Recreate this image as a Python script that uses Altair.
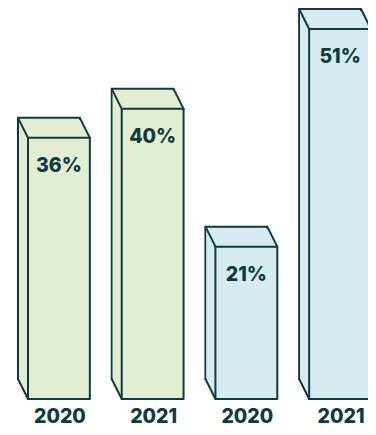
import altair as alt
import pandas as pd

keys = ["g2020", "g2021", "b2020", "b2021"]
years = ["2020", "2021", "2020", "2021"]
values = [36, 40, 21, 51]
groups = ["green", "green", "blue", "blue"]
labels = ["36%", "40%", "21%", "51%"]

df = pd.DataFrame({"key": keys, "year": years, "value": values,
                   "group": groups, "label": labels})

DARK = "#0f3b3e"
FONT = "Inter"
DX, DY = 10, 20

xscale = alt.Scale(range=[20, 363], paddingInner=0.34, paddingOuter=0)
xaxis = alt.Axis(title=None, labelExpr="substring(datum.value, 1)", domain=False,
                 ticks=False, labelAngle=0, labelFont=FONT, labelFontSize=19.5,
                 labelFontWeight=800, labelColor=DARK, labelPadding=8,
                 labelOffset=1)
yscale = alt.Scale(domain=[0, 53.9], nice=False, zero=True)


def X(bp=None):
    if bp is None:
        return alt.X("key:N", sort=keys, scale=xscale, axis=xaxis)
    return alt.X("key:N", sort=keys, scale=xscale, axis=xaxis, bandPosition=bp)


Y = alt.Y("value:Q", scale=yscale, axis=None)
fill = alt.Fill("group:N", scale=alt.Scale(domain=["green", "blue"],
                                           range=["#e2eed2", "#d6ecf0"]), legend=None)

base = alt.Chart(df)
layers = []

# back face (outline gives back-top and back-left edges)
layers.append(base.mark_bar(xOffset=-DX, x2Offset=-DX, yOffset=-DY, y2Offset=-DY,
                            stroke=DARK, strokeWidth=2, strokeJoin="round")
              .encode(x=X(), y=Y, fill=fill))

# intermediate fills for side and top faces
n = 18
for k in range(1, n + 1):
    ox = -DX * k / 20
    oy = -DY * k / 20
    layers.append(base.mark_bar(xOffset=ox, x2Offset=ox, yOffset=oy, y2Offset=oy,
                                strokeWidth=0)
                  .encode(x=X(), y=Y, fill=fill))

# front face
layers.append(base.mark_bar(stroke=DARK, strokeWidth=2, strokeJoin="round")
              .encode(x=X(), y=Y, fill=fill))

# diagonal edges
rule_kw = dict(color=DARK, strokeWidth=2, strokeCap="round", xOffset=-DX, yOffset=-DY)
layers.append(base.mark_rule(**rule_kw).encode(
    x=X(0), x2=alt.X2("key:N", bandPosition=0), y=Y, y2=alt.Y2("value:Q")))
layers.append(base.mark_rule(**rule_kw).encode(
    x=X(1), x2=alt.X2("key:N", bandPosition=1), y=Y, y2=alt.Y2("value:Q")))
layers.append(base.transform_calculate(zero="0").mark_rule(**rule_kw).encode(
    x=X(0), x2=alt.X2("key:N", bandPosition=0),
    y=alt.Y("zero:Q", scale=yscale, axis=None), y2=alt.Y2("zero:Q")))

# value labels
layers.append(base.mark_text(dy=28, baseline="middle", font=FONT, fontSize=19.5,
                             fontWeight=800, color=DARK)
              .encode(x=X(), y=Y, text="label:N"))

chart = alt.layer(*layers).properties(
    width=360, height=391,
    autosize=alt.AutoSizeParams(type="none"),
    padding={"left": 0, "top": 0, "right": 0, "bottom": 28},
    background="white"
).configure_view(stroke=None)

chart.save("out.html", embed_options={"renderer": "svg", "actions": False})
